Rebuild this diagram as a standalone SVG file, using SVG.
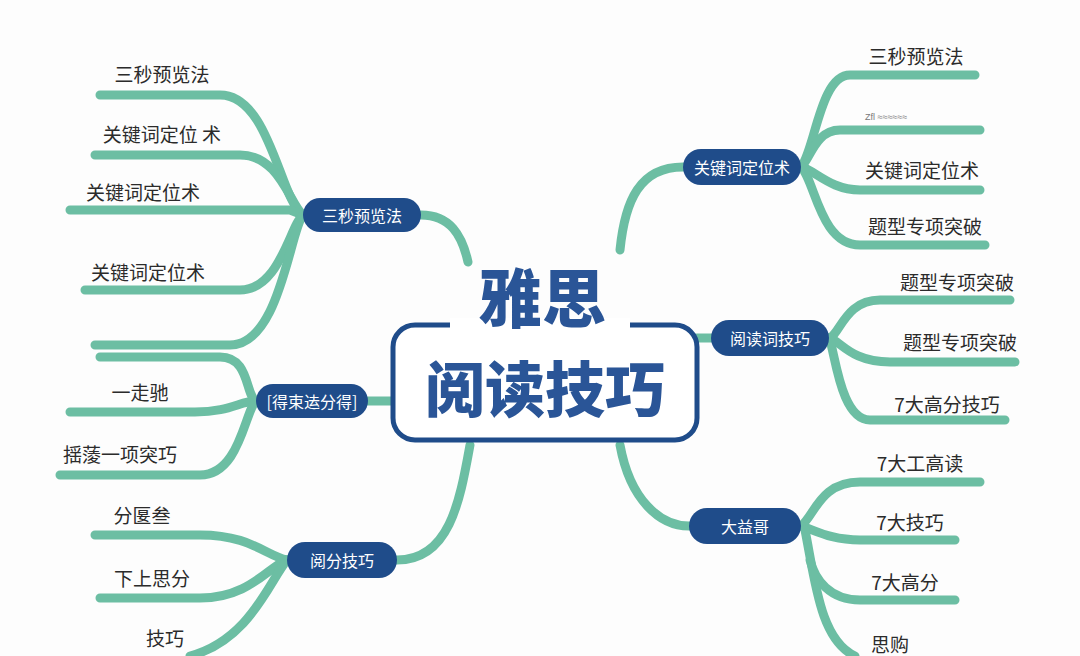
<svg xmlns="http://www.w3.org/2000/svg" width="1080" height="656" viewBox="0 0 1080 656">
<style>
.c{fill:none;stroke:#6cbea3;stroke-width:9;stroke-linecap:round;stroke-linejoin:round}
.n{fill:#1f4c8a}
.nt{fill:#fff;font-family:"Noto Sans CJK SC",sans-serif;font-size:16px;text-anchor:middle;dominant-baseline:central}
.l{fill:#2b2b2b;font-family:"Noto Sans CJK SC",sans-serif;font-size:19px;text-anchor:middle}
</style>
<rect width="1080" height="656" fill="#fdfdfd"/>
<g id="connectors">
<path class="c" d="M100,95 H220 C270,95 280,200 303,215"/>
<path class="c" d="M95,155 H240 C280,155 290,205 303,215"/>
<path class="c" d="M70,210 H290 L303,215"/>
<path class="c" d="M85,290 H240 C280,290 290,225 303,215"/>
<path class="c" d="M95,345 H230 C280,345 290,230 303,215"/>
<path class="c" d="M421,215 C450,215 462,235 468,262"/>
<path class="c" d="M100,357 H220 C250,357 245,395 256,401"/>
<path class="c" d="M70,412 H195 C230,412 240,401 256,401"/>
<path class="c" d="M60,475 H200 C240,475 245,410 256,401"/>
<path class="c" d="M368,401 H393"/>
<path class="c" d="M95,535 H200 C250,535 265,555 287,560"/>
<path class="c" d="M100,598 H200 C250,598 270,565 287,560"/>
<path class="c" d="M190,656 C250,640 270,580 287,560"/>
<path class="c" d="M397,560 C450,560 460,500 470,445"/>
<path class="c" d="M850,75 H975 M850,75 C820,75 815,150 801,167"/>
<path class="c" d="M840,130 H980 M840,130 C815,130 810,160 801,167"/>
<path class="c" d="M860,190 H980 M860,190 C830,190 815,170 801,167"/>
<path class="c" d="M860,245 H985 M860,245 C820,245 815,180 801,167"/>
<path class="c" d="M683,167 C640,167 625,200 620,250"/>
<path class="c" d="M880,300 H1010 M880,300 C845,300 840,335 829,338"/>
<path class="c" d="M890,362 H1015 M890,362 C850,362 840,340 829,338"/>
<path class="c" d="M870,420 H1005 M870,420 C840,420 835,350 829,338"/>
<path class="c" d="M697,338 H711"/>
<path class="c" d="M860,482 H980 M860,482 C820,482 815,515 801,526"/>
<path class="c" d="M860,540 H955 M860,540 C830,540 815,530 801,526"/>
<path class="c" d="M860,600 H955 M860,600 C830,600 815,580 810,560"/>
<path class="c" d="M855,656 C820,640 815,580 805,530"/>
<path class="c" d="M620,445 C630,500 660,526 689,526"/>
</g>
<g id="center">
<rect x="393" y="325" width="304" height="115" rx="22" fill="#fff" stroke="#1f4c8a" stroke-width="5"/>
<rect x="450" y="318" width="180" height="14" fill="#fff"/>
<text x="542" y="322" font-family="Noto Sans CJK SC,sans-serif" font-size="64" font-weight="900" fill="#2a5597" text-anchor="middle">雅思</text>
<text x="545" y="412" font-family="Noto Sans CJK SC,sans-serif" font-size="60" font-weight="900" fill="#2a5597" text-anchor="middle">阅读技巧</text>
</g>
<g id="n1"><rect class="n" x="303" y="198" width="118" height="34" rx="17"/><text class="nt" x="362" y="215">三秒预览法</text></g>
<g id="n2"><rect class="n" x="256" y="384" width="112" height="34" rx="17"/><text class="nt" x="312" y="401">[得束迲分得]</text></g>
<g id="n3"><rect class="n" x="287" y="542" width="110" height="36" rx="18"/><text class="nt" x="342" y="560">阅分技巧</text></g>
<g id="n4"><rect class="n" x="683" y="149" width="118" height="36" rx="18"/><text class="nt" x="742" y="167">关键词定位术</text></g>
<g id="n5"><rect class="n" x="711" y="320" width="118" height="36" rx="18"/><text class="nt" x="770" y="338">阅读词技巧</text></g>
<g id="n6"><rect class="n" x="689" y="508" width="112" height="36" rx="18"/><text class="nt" x="745" y="526">大益哥</text></g>
<g id="leaves">
<text class="l" x="162" y="82">三秒预览法</text>
<text class="l" x="162" y="142">关键词定位 术</text>
<text class="l" x="143" y="200">关键词定位术</text>
<text class="l" x="148" y="280">关键词定位术</text>
<text class="l" x="140" y="400">一走驰</text>
<text class="l" x="120" y="462">揺蔆一项突巧</text>
<text class="l" x="142" y="523">分匽叁</text>
<text class="l" x="152" y="586">下上思分</text>
<text class="l" x="165" y="646">技巧</text>
<text class="l" x="916" y="64">三秒预览法</text>
<text x="865" y="120" font-family="Liberation Sans,sans-serif" font-size="9" fill="#777">Zfl ≈≈≈≈≈≈</text>
<text class="l" x="922" y="178">关键词定位术</text>
<text class="l" x="925" y="234">题型专项突破</text>
<text class="l" x="957" y="290">题型专项突破</text>
<text class="l" x="960" y="350">题型专项突破</text>
<text class="l" x="947" y="412">7大高分技巧</text>
<text class="l" x="920" y="471">7大工高读</text>
<text class="l" x="910" y="530">7大技巧</text>
<text class="l" x="905" y="590">7大高分</text>
<text class="l" x="890" y="652">思购</text>
</g>
</svg>
